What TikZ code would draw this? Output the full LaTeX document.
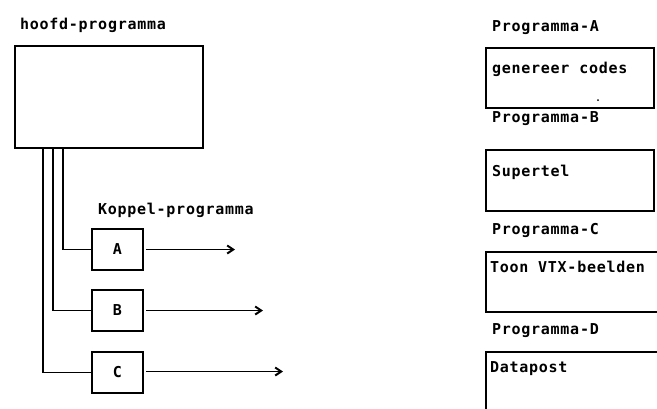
\documentclass[tikz,border=0pt]{standalone}
\usepackage{fontspec}
\newfontfamily\lblfont[LetterSpace=5]{DejaVu Sans Mono}
\usetikzlibrary{arrows.meta}
\begin{document}
\begin{tikzpicture}[x=1pt,y=-1pt,
  every node/.style={inner sep=0pt,outer sep=0pt},
  lbl/.style={font=\lblfont\bfseries\fontsize{15}{17}\selectfont},
  txt/.style={lbl,anchor=base west},
  bx/.style={draw,line width=1.8pt,anchor=north west},
  ln/.style={line width=1.8pt},
  arr/.style={line width=1.6pt,-{Straight Barb[length=6pt,width=8pt,line width=2pt]}}
]
\useasboundingbox (0,0) rectangle (657,408);
\fill[white] (0,0) rectangle (657,408);
\begin{scope}
\clip (0,0) rectangle (657,408);
% left part
\node[txt] (thoofd) at (20,29) {hoofd-programma};
\node[bx,minimum width=188pt,minimum height=102pt] (m) at (15,46) {};
\node[txt] (tkop) at (98,214) {Koppel-programma};
\node[bx,minimum width=51pt,minimum height=41pt] (A) at (92,229) {};
\node[bx,minimum width=51pt,minimum height=41pt] (B) at (92,290) {};
\node[bx,minimum width=51pt,minimum height=41pt] (C) at (92,352) {};
\node[lbl] (lA) at (A.center) {A};
\node[lbl] (lB) at (B.center) {B};
\node[lbl] (lC) at (C.center) {C};
\coordinate (pA) at (63,148);
\coordinate (pB) at (53,148);
\coordinate (pC) at (43,148);
\draw[ln] (pA) |- (A.west);
\draw[ln] (pB) |- (B.west);
\draw[ln] (pC) |- (C.west);
\coordinate (sA) at (146,249.5);
\coordinate (sB) at (146,310.5);
\coordinate (sC) at (146,371.5);
\coordinate (eA) at (235,249.5);
\coordinate (eB) at (263,310.5);
\coordinate (eC) at (283,371.5);
\draw[arr] (sA) -- (eA);
\draw[arr] (sB) -- (eB);
\draw[arr] (sC) -- (eC);
% right part
\node[txt] (tpa) at (492,31) {Programma-A};
\node[bx,minimum width=168pt,minimum height=60pt] (RA) at (486,48) {};
\node[txt] (ga) at (492,73) {genereer codes};
\fill (598,100) circle (1pt);
\node[txt] (tpb) at (492,122.5) {Programma-B};
\node[bx,minimum width=168pt,minimum height=61pt] (RB) at (486,150) {};
\node[txt] (gb) at (492,176) {Supertel};
\node[txt] (tpc) at (492,234) {Programma-C};
\node[bx,minimum width=200pt,minimum height=60pt] (RC) at (486,252) {};
\node[txt] (gc) at (490,272) {Toon VTX-beelden};
\node[txt] (tpd) at (492,334) {Programma-D};
\node[bx,minimum width=200pt,minimum height=80pt] (RD) at (486,352) {};
\node[txt] (gd) at (490,372) {Datapost};
\end{scope}
\end{tikzpicture}
\end{document}
